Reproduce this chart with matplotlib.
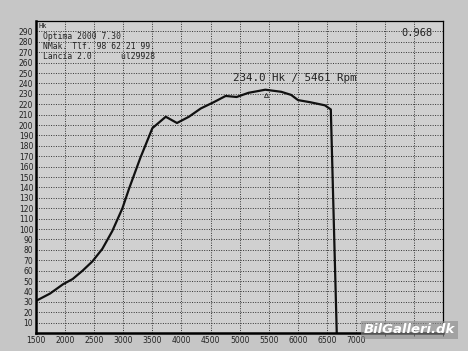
import numpy as np
import matplotlib.pyplot as plt

# kurve aflæst fra dyno-udskriften
rpm = [1500, 1740, 1965, 2130, 2300, 2470, 2640, 2810, 2985, 3100, 3290,
       3500, 3730, 3923, 4128, 4333, 4555, 4760, 4948, 5152, 5442, 5715,
       5886, 6005, 6210, 6466, 6568, 6670]
hk = [31, 38, 47, 52, 60, 69, 81, 98, 120, 139, 168,
      197, 208, 202, 208, 216, 222, 228, 227, 231, 234, 232,
      229, 224, 222, 219, 215, 0]

x_ticks = list(range(1500, 7001, 500))
y_ticks = list(range(10, 291, 10))

header = ["Optima 2000 7.30", "NMak. Tlf. 98 62 21 99.", "Lancia 2.0      ul29928"]
peak_text = "234.0 Hk / 5461 Rpm"
peak_rpm, peak_hk = 5461, 234.0
factor_text = "0.968"

fig = plt.figure(figsize=(4.68, 3.51), dpi=100, facecolor='#c6c6c6')
ax = fig.add_axes([0.077, 0.051, 0.870, 0.889])
ax.set_facecolor('#d0d0d0')

ax.set_xlim(1500, 8500)
ax.set_ylim(0, 300)

ax.set_xticks(x_ticks)
ax.set_yticks(y_ticks)
ax.set_xticks(range(1500, 8501, 500), minor=True)
ax.tick_params(axis='both', labelsize=5.5, length=0, pad=2, colors='#222222')
ax.grid(True, which='both', color='#333333', linestyle=(0, (1, 1.5)), linewidth=0.7)

for side in ['left', 'bottom']:
    ax.spines[side].set_linewidth(1.8)
for side in ['top', 'right']:
    ax.spines[side].set_linewidth(0.9)

ax.plot(rpm, hk, color='#111111', linewidth=1.6, solid_joinstyle='round')
ax.plot([peak_rpm], [peak_hk - 5], marker='^', markersize=3, color='#333333',
        markerfacecolor='none', markeredgewidth=0.6)

mono = 'DejaVu Sans Mono'
ax.text(1540, 298, "Hk", fontsize=5, family=mono, va='top', color='#222222')
for i, line in enumerate(header):
    ax.text(1620, 285 - i * 9.5, line, fontsize=5.8, family=mono,
            va='center', color='#222222')
ax.text(5950, 245, peak_text, fontsize=7.8, family=mono, ha='center',
        va='center', color='#222222')
ax.text(8310, 289, factor_text, fontsize=7.5, family=mono, ha='right',
        va='center', color='#222222')

fig.text(0.875, 0.06, "BilGalleri.dk", fontsize=9.5, fontweight='bold',
         fontstyle='italic', color='white', ha='center', va='center',
         bbox=dict(facecolor='#8a8a8a', edgecolor='none', alpha=0.6, pad=2))

fig.savefig('out.png', dpi=100, facecolor=fig.get_facecolor())
